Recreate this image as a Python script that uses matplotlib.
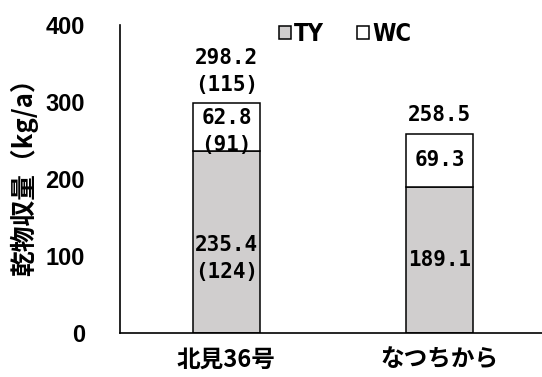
import matplotlib
matplotlib.use('Agg')
from matplotlib import pyplot as plt
from matplotlib.patches import Patch

plt.rcParams['font.family'] = ['Noto Sans CJK JP', 'DejaVu Sans']

# Dry matter yield by cultivar (kg/a), stacked TY + WC
cultivars = ['北見36号', 'なつちから']
ty_yield = [235.4, 189.1]
wc_yield = [62.8, 69.3]
total_yield = [298.2, 258.5]
ty_index = ['(124)', '']
wc_index = ['(91)', '']
total_index = ['(115)', '']

fig = plt.figure(figsize=(5.42, 3.77), dpi=100)
ax = fig.add_axes([0.221, 0.118, 0.779, 0.816])

x = range(len(cultivars))
w = 0.315
ax.bar(x, ty_yield, w, color='#d0cece', edgecolor='black', linewidth=1.1, label='TY')
ax.bar(x, wc_yield, w, bottom=ty_yield, color='white', edgecolor='black', linewidth=1.1, label='WC')

lab = dict(family='DejaVu Sans Mono', fontweight='bold', fontsize=15,
           ha='center', linespacing=1.45, textcoords='offset points')


def block(v, idx):
    return f'{v:.1f}' + ('\n' + idx if idx else '')


for i in x:
    # TY segment: two-line block sits a bit below the centre
    dy = -12 if ty_index[i] else 0
    ax.annotate(block(ty_yield[i], ty_index[i]), (i, ty_yield[i] / 2),
                xytext=(0, dy), va='center', **lab)
    dy = -3 if wc_index[i] else 0
    ax.annotate(block(wc_yield[i], wc_index[i]), (i, ty_yield[i] + wc_yield[i] / 2),
                xytext=(0, dy), va='center', **lab)
    ax.annotate(block(total_yield[i], total_index[i]), (i, total_yield[i]),
                xytext=(0, 6), va='bottom', **lab)

ax.set_xlim(-0.5, 1.48)
ax.set_ylim(0, 400)
ax.set_yticks([0, 100, 200, 300, 400])
ax.set_xticks(list(x))
ax.set_xticklabels(cultivars, fontsize=17, fontweight='bold')
for t in ax.get_yticklabels():
    t.set_fontsize(17)
    t.set_fontweight('bold')
    t.set_family(['Liberation Sans', 'DejaVu Sans'])
ax.tick_params(length=0)
ax.tick_params(axis='y', pad=25)
ax.tick_params(axis='x', pad=11)
ax.set_ylabel('乾物収量（kg/a）', fontsize=18.5, fontweight='bold')
ax.yaxis.set_label_coords(-0.194, 0.525)
for s in ['top', 'right']:
    ax.spines[s].set_visible(False)
ax.spines['left'].set_linewidth(1.2)
ax.spines['bottom'].set_linewidth(1.2)

handles = [Patch(facecolor='#d0cece', edgecolor='black', linewidth=1.1),
           Patch(facecolor='white', edgecolor='black', linewidth=1.1)]
ax.legend(handles, ['TY', 'WC'], loc='center', bbox_to_anchor=(0.534, 0.97),
          ncol=2, frameon=False, handlelength=0.5, handleheight=0.5,
          handletextpad=0.15, columnspacing=1.4,
          prop={'family': 'DejaVu Sans', 'stretch': 'condensed',
                'weight': 'bold', 'size': 17})

fig.savefig('out.png', dpi=100)
